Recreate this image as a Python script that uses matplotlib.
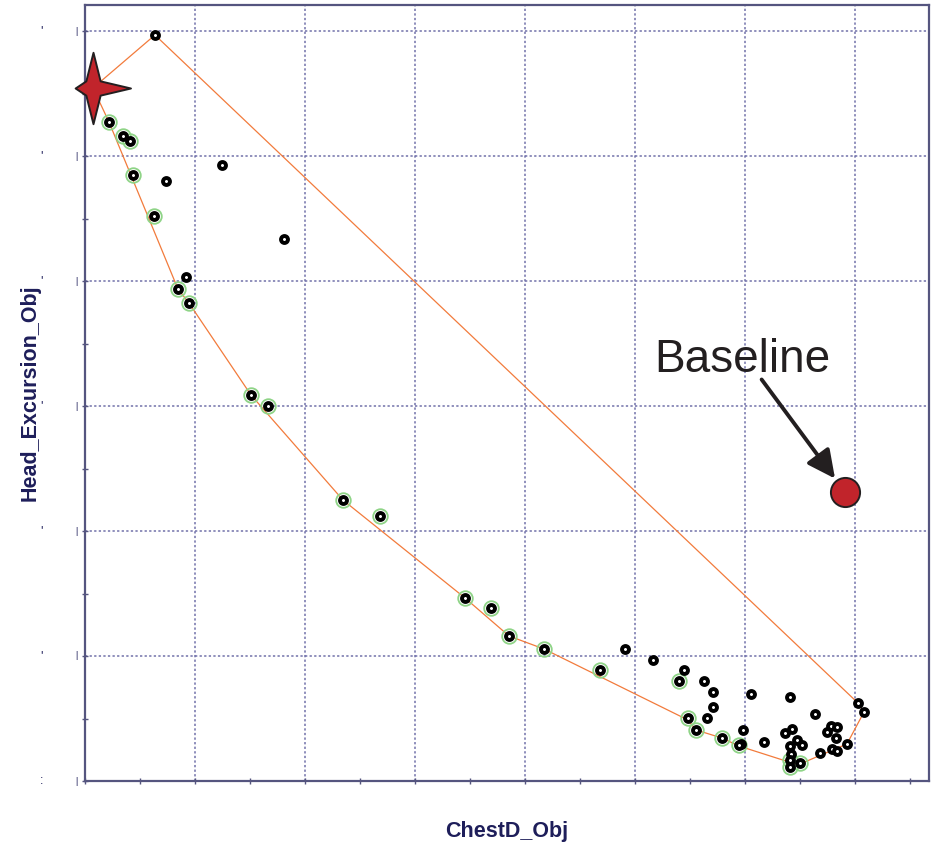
import matplotlib
matplotlib.use('Agg')
import matplotlib.pyplot as plt
import numpy as np
from matplotlib.path import Path
from matplotlib.ticker import MultipleLocator

plt.rcParams['font.family'] = ['Liberation Sans', 'DejaVu Sans']

# designs that are only dominated (black rings)
other_x = [0.636, 0.736, 1.245, 1.809, 0.918, 4.909, 5.164, 5.445, 5.627, 5.709,
           5.709, 5.655, 5.982, 6.055, 6.173, 6.409, 6.364, 6.427, 6.473, 6.518,
           6.409, 6.418, 6.636, 6.682, 6.745, 6.782, 6.836, 6.827, 6.791, 6.836,
           6.927, 7.027, 7.082, 5.96]
other_y = [5.968, 4.800, 4.928, 4.336, 4.032, 1.056, 0.968, 0.888, 0.800, 0.712,
           0.592, 0.504, 0.408, 0.696, 0.312, 0.672, 0.384, 0.416, 0.328, 0.288,
           0.280, 0.216, 0.536, 0.224, 0.392, 0.440, 0.432, 0.344, 0.256, 0.240,
           0.296, 0.624, 0.552, 0.30]

# pareto designs (green ring)
pareto_x = [0.218, 0.345, 0.409, 0.436, 0.627, 0.845, 0.945, 1.509, 1.664, 2.345,
            2.682, 3.455, 3.691, 3.855, 4.173, 4.682, 5.400, 5.482, 5.555, 5.791,
            5.945, 6.409, 6.409, 6.500]
pareto_y = [5.272, 5.160, 5.120, 4.848, 4.520, 3.936, 3.824, 3.088, 3.000, 2.248,
            2.120, 1.464, 1.384, 1.160, 1.056, 0.888, 0.800, 0.504, 0.408, 0.344,
            0.288, 0.168, 0.112, 0.144]

# outline around the design cloud
hull_x = [0.073, 0.218, 0.845, 0.945, 1.509, 2.345, 3.455, 3.855, 4.173, 5.482,
          5.555, 5.791, 5.945, 6.400, 6.500, 6.927, 7.082, 7.027, 0.636, 0.073]
hull_y = [5.544, 5.272, 3.936, 3.824, 3.088, 2.248, 1.464, 1.160, 1.056, 0.488,
          0.408, 0.344, 0.280, 0.152, 0.136, 0.296, 0.552, 0.624, 5.968, 5.544]

star_x, star_y = 0.073, 5.544
base_x, base_y = 6.909, 2.312

navy = '#1e1e5a'
spine_c = '#55557f'

fig = plt.figure(figsize=(9.34, 8.44), dpi=100)
ax = fig.add_axes([85/934, 63/844, 844/934, 776/844])
ax.set_xlim(0, 7.673)
ax.set_ylim(0, 6.208)

ax.xaxis.set_major_locator(MultipleLocator(1)); ax.xaxis.set_minor_locator(MultipleLocator(0.5))
ax.yaxis.set_major_locator(MultipleLocator(1)); ax.yaxis.set_minor_locator(MultipleLocator(0.5))
ax.grid(True, which='major', color='#7272aa', linestyle=(0, (1.5, 1.5)), lw=1.1, zorder=0)
ax.tick_params(which='both', direction='inout', length=5, width=1, color=spine_c,
               labelbottom=False, labelleft=False)
for s in ax.spines.values():
    s.set_color(spine_c); s.set_linewidth(1.6)

# remnants of the y tick labels
for v in range(7):
    tr = ax.get_yaxis_transform()
    ax.text(-0.0107, v, '|', transform=tr, ha='center', va='center', fontsize=6.5, color=navy)
    ax.text(-0.051, v, ':' if v == 0 else "'", transform=tr, ha='center', va='center',
            fontsize=9, color=navy)

ax.plot(hull_x, hull_y, color='#f27b3c', lw=0.9, zorder=2)

ax.plot(pareto_x, pareto_y, ls='none', marker='o', ms=10.5, mfc='none', mec='#8fd487',
        mew=1.3, zorder=3)
ax.plot(other_x + pareto_x, other_y + pareto_y, ls='none', marker='o', ms=5.0, mfc='white',
        mec='black', mew=2.8, zorder=4)

star = Path([(0, 1), (0.2, 0.2), (1.05, 0), (0.2, -0.2), (0, -1), (-0.2, -0.2),
             (-0.5, 0), (-0.2, 0.2), (0, 1)],
            [Path.MOVETO] + [Path.LINETO] * 7 + [Path.CLOSEPOLY])
ax.plot([star_x], [star_y], ls='none', marker=star, ms=54, mfc='#c1242b', mec='#231f20',
        mew=1.4, zorder=6, clip_on=False)

ax.plot([base_x], [base_y], ls='none', marker='o', ms=21, mfc='#c1242b', mec='#231f20',
        mew=1.4, zorder=6)
ax.annotate('', xy=(base_x, base_y), xytext=(-60, 81), textcoords='offset points',
            arrowprops=dict(arrowstyle='-|>,head_length=0.85,head_width=0.42', lw=2.8,
                            color='#231f20', shrinkA=0, shrinkB=12, mutation_scale=20),
            zorder=7)
ax.annotate('Baseline', xy=(base_x, base_y), xytext=(-74, 95), textcoords='offset points',
            ha='center', va='center', fontsize=33, color='#231f20', zorder=7)

ax.set_xlabel('ChestD_Obj', fontsize=15.5, fontweight='bold', color=navy)
ax.set_ylabel('Head_Excursion_Obj', fontsize=15.5, fontweight='bold', color=navy)
ax.xaxis.set_label_coords(0.5, -0.0515)
ax.yaxis.set_label_coords(-0.053, 0.5)

fig.savefig('out.png', dpi=100)
